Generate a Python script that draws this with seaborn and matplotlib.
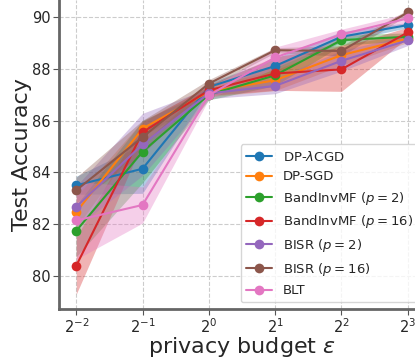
import numpy as np
import pandas as pd
import seaborn as sns
import matplotlib.pyplot as plt

# privacy budgets (epsilon)
eps = [0.25, 0.5, 1, 2, 4, 8]

# mean test accuracy per method
acc_lcgd = [83.50, 84.14, 87.30, 88.11, 89.24, 89.69]
acc_sgd = [82.47, 85.69, 87.12, 87.56, 88.53, 89.17]
acc_band2 = [81.74, 84.80, 87.00, 87.75, 89.11, 89.24]
acc_band16 = [80.39, 85.55, 87.17, 87.82, 87.98, 89.41]
acc_bisr2 = [82.67, 85.08, 87.05, 87.34, 88.31, 89.10]
acc_bisr16 = [83.31, 85.36, 87.43, 88.72, 88.69, 90.18]
acc_blt = [82.14, 82.74, 86.98, 88.44, 89.33, 89.95]

# std (shaded band half-width)
std_lcgd = [0.35, 0.95, 0.15, 0.30, 0.20, 0.10]
std_sgd = [0.60, 0.30, 0.20, 0.40, 0.40, 0.15]
std_band2 = [1.00, 1.20, 0.20, 0.40, 0.20, 0.15]
std_band16 = [1.10, 0.40, 0.20, 0.65, 0.85, 0.20]
std_bisr2 = [0.80, 1.20, 0.20, 0.30, 0.40, 0.20]
std_bisr16 = [0.50, 0.65, 0.15, 0.10, 0.20, 0.10]
std_blt = [1.50, 0.70, 0.15, 0.40, 0.20, 0.20]

labels = ['DP-$\\lambda$CGD', 'DP-SGD', 'BandInvMF ($p=2$)',
          'BandInvMF ($p=16$)', 'BISR ($p=2$)', 'BISR ($p=16$)', 'BLT']
means = [acc_lcgd, acc_sgd, acc_band2, acc_band16, acc_bisr2, acc_bisr16,
         acc_blt]
stds = [std_lcgd, std_sgd, std_band2, std_band16, std_bisr2, std_bisr16,
        std_blt]

sns.set_style('whitegrid', {'grid.linestyle': '--', 'grid.color': '#cccccc'})
colors = sns.color_palette('tab10')

fig = plt.figure(figsize=(4.15, 3.6), dpi=100)
ax = fig.add_axes([59 / 415, 51 / 360, 366 / 415, 309 / 360])

for i, (lab, m, s) in enumerate(zip(labels, means, stds)):
    m = np.array(m)
    s = np.array(s)
    df = pd.DataFrame({'eps': eps, 'acc': m})
    ax.fill_between(eps, m - s, m + s, color=colors[i], alpha=0.35,
                    linewidth=0)
    sns.lineplot(data=df, x='eps', y='acc', ax=ax, color=colors[i],
                 marker='o', markersize=7, markeredgewidth=0,
                 linewidth=1.5, label=lab)

ax.set_xscale('log', base=2)
ax.set_xlim(2 ** -2.26, 2 ** 3.26)
ax.set_ylim(78.72, 90.66)
ax.set_yticks([80, 82, 84, 86, 88, 90])
ax.set_xticks(eps)
ax.tick_params(labelsize=10.5, length=4, pad=2, color='#555555',
               left=True, bottom=True)
ax.grid(True, linestyle='--', color='#cccccc', linewidth=0.8)

for side in ['top', 'right']:
    ax.spines[side].set_visible(False)
for side in ['left', 'bottom']:
    ax.spines[side].set_color('#666666')
    ax.spines[side].set_linewidth(2)

ax.set_xlabel('privacy budget $\\epsilon$', fontsize=16, labelpad=-1)
ax.set_ylabel('Test Accuracy', fontsize=16, labelpad=0)
ax.legend(loc='lower right', fontsize=9.5, labelspacing=0.5)

fig.savefig('out.png', dpi=100)
